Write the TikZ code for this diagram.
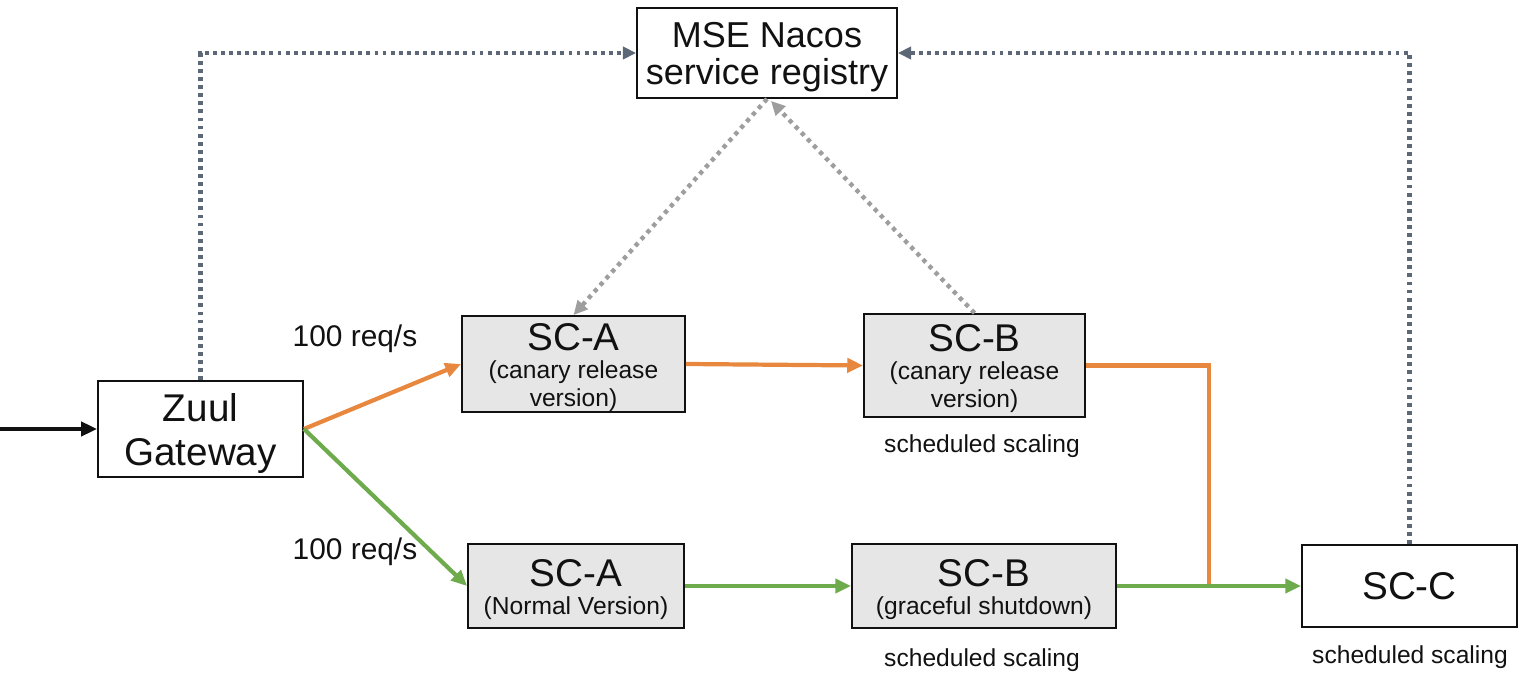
\documentclass[tikz,border=0pt]{standalone}
\usepackage{fontspec}
\setmainfont{Liberation Sans}
\usetikzlibrary{arrows.meta,calc}
\definecolor{ink}{HTML}{111111}
\definecolor{boxfill}{HTML}{E6E6E6}
\definecolor{canarycol}{HTML}{E8873E}
\definecolor{normalcol}{HTML}{6EAB4D}
\definecolor{regcol}{HTML}{5D6877}
\definecolor{beatcol}{HTML}{9E9E9E}
\newcommand{\svcname}[1]{{\fontsize{22}{17}\selectfont\rule{0pt}{19pt}#1}}
\newcommand{\tallstrut}{\rule{0pt}{19pt}}

\begin{document}
\begin{tikzpicture}[
  x=0.02cm, y=-0.02cm, line join=miter,
  box/.style={draw=ink, line width=1.1pt, inner sep=0pt, align=center, text=ink,
              font=\fontsize{14}{16}\selectfont},
  svc/.style={box, fill=boxfill},
  lbl/.style={font=\fontsize{14}{16}\selectfont, text=ink},
  rate/.style={font=\fontsize{17}{19}\selectfont, text=ink},
  tip/.style={-{Triangle[length=9pt,width=8pt]}},
  flow/.style={tip, line width=2.4pt},
  reg/.style={-{Triangle[length=7.5pt,width=7pt]}, regcol, line width=2.3pt,
              dash pattern=on 2.2pt off 2.4pt},
  beat/.style={-{Triangle[length=8pt,width=7.5pt]}, beatcol, line width=2.5pt,
               dash pattern=on 2.4pt off 2.6pt}]

% ---------------------------------------------------------------- frame
\useasboundingbox (0,0) rectangle (1536,688);

% ---------------------------------------------------------------- registry and gateway
\node[box, minimum width=5.2cm, minimum height=1.8cm,
      font=\fontsize{20.5}{21.5}\selectfont] (nacos) at (767,53)
  {\tallstrut MSE Nacos\\service registry};
\node[box, minimum width=4.1cm, minimum height=1.92cm,
      font=\fontsize{22}{25}\selectfont] (zuul) at (200.5,429)
  {\rule{0pt}{21pt}Zuul\\Gateway};

% ---------------------------------------------------------------- canary row
\node[svc, minimum width=4.46cm, minimum height=1.92cm] (saCan) at (573.5,364)
  {\svcname{SC-A}\\(canary release\\version)};
\node[svc, minimum width=4.42cm, minimum height=2.06cm] (sbCan) at (974.5,365.5)
  {\svcname{SC-B}\\(canary release\\version)};
\node[lbl] (sbCanNote) at (982,446) {scheduled scaling};

% ---------------------------------------------------------------- normal row
\node[svc, minimum width=4.32cm, minimum height=1.68cm] (saNorm) at (576,586)
  {\svcname{SC-A}\\(Normal Version)};
\node[svc, minimum width=5.28cm, minimum height=1.68cm] (sbNorm) at (984,586)
  {\svcname{SC-B}\\(graceful shutdown)};
\node[lbl] (sbNormNote) at (982,660) {scheduled scaling};

\node[box, minimum width=4.3cm, minimum height=1.64cm,
      font=\fontsize{22}{24}\selectfont] (scc) at (1409.5,586) {SC-C};
\node[lbl] (sccNote) at (1410,657) {scheduled scaling};

\node[rate] (rateCan) at (355,339) {100 req/s};
\node[rate] (rateNorm) at (355,552) {100 req/s};

% ---------------------------------------------------------------- traffic
\coordinate (entry) at (0,429);
\coordinate (merge) at (1209,586);
\draw[tip, ink, line width=2pt] (entry) -- (zuul.west);

\draw[flow, canarycol] (zuul.east) -- (saCan.west);
\draw[flow, canarycol] (saCan.east) -- (sbCan.west);
\draw[canarycol, line width=2.7pt] (sbCan.east) -| (merge);

\draw[flow, normalcol] (zuul.east) -- (saNorm.west);
\draw[flow, normalcol] (saNorm.east) -- (sbNorm.west);
\draw[flow, normalcol] (sbNorm.east) -- (scc.west);

% ---------------------------------------------------------------- registration
\draw[reg] (zuul.north) |- (nacos.west);
\draw[reg] (scc.north) |- (nacos.east);
\draw[beat] (nacos.south) -- (saCan.north);
\draw[beat] (sbCan.north) -- ($(nacos.south)+(4,2)$);

\end{tikzpicture}
\end{document}
